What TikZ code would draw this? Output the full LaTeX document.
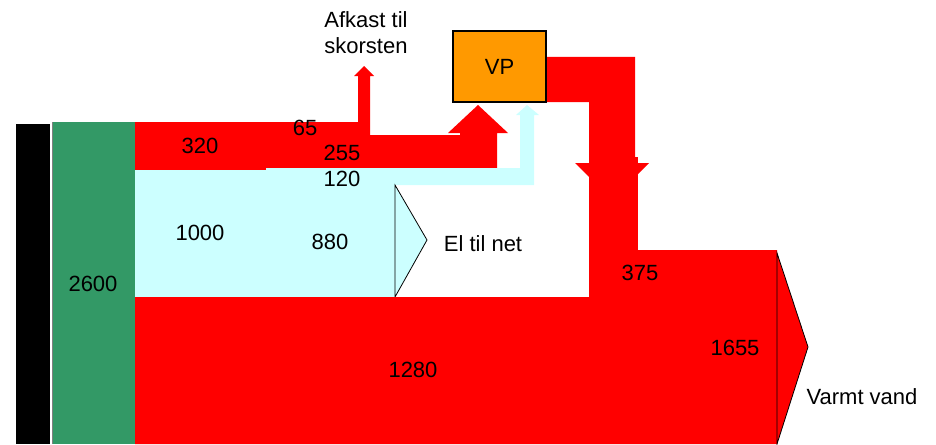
\documentclass[tikz,border=0pt]{standalone}
\usepackage{fontspec}
\setmainfont{Liberation Sans}
\definecolor{flowred}{HTML}{FF0000}
\definecolor{flowcyan}{HTML}{CCFFFF}
\definecolor{flowgreen}{HTML}{339966}
\definecolor{vporange}{HTML}{FF9900}
\tikzset{
  lbl/.style={font=\fontsize{22}{26}\selectfont, text=black, inner sep=0pt},
  redflow/.style={fill=flowred, draw=none},
  cyanflow/.style={fill=flowcyan, draw=none},
  outtri/.style={draw=black, line width=0.8pt},
}
\begin{document}
\begin{tikzpicture}[x=1pt,y=-1pt]
\useasboundingbox (0,0) rectangle (936,444);
% source bars
\fill[black] (16,124) rectangle (50,444);
\fill[flowgreen] (52,122) rectangle (135,444);
\draw[gray, line width=0.6pt] (52,122) -- (52,444);
% top red band 320
\fill[redflow] (135,122) rectangle (266,170);
% 65 to chimney + 255 to VP
\fill[redflow] (266,122) -- (358,122) -- (358,76) -- (354,76) -- (364,66) -- (374,76)
  -- (370,76) -- (370,135) -- (460,135) -- (460,133) -- (448,133) -- (478,105)
  -- (508,133) -- (497,133) -- (497,168) -- (266,168) -- cycle;
% cyan flows
\fill[cyanflow] (135,170) rectangle (395,297);
\fill[cyanflow] (266,168) -- (520,168) -- (520,115) -- (516,115) -- (527,105) -- (539,115)
  -- (534,115) -- (534,185) -- (266,185) -- cycle;
\filldraw[fill=flowcyan, outtri] (395,185) -- (427,240) -- (395,297) -- cycle;
% big red block
\fill[redflow] (135,297) -- (589,297) -- (589,250) -- (777,250) -- (777,444) -- (135,444) -- cycle;
% VP output arrow
\fill[redflow] (547,57) -- (635,57) -- (635,163) -- (649,163) -- (612,200) -- (575,163)
  -- (589,163) -- (589,102) -- (547,102) -- cycle;
\fill[redflow] (589,157) rectangle (638,252);
\filldraw[fill=flowred, outtri] (777,253) -- (808,347) -- (777,444) -- cycle;
% VP box
\node[draw=black, line width=2pt, fill=vporange, minimum width=93pt, minimum height=71pt,
  lbl] (vp) at (499.5,66.5) {VP};
% labels
\node[lbl] (l320) at (200,146) {320};
\node[lbl] (l65) at (305,128) {65};
\node[lbl] (l255) at (342,153) {255};
\node[lbl] (l120) at (342,179) {120};
\node[lbl] (l1000) at (200,233) {1000};
\node[lbl] (l880) at (330,242) {880};
\node[lbl] (l2600) at (93,284) {2600};
\node[lbl] (el) at (483,244) {El til net};
\node[lbl] (l375) at (640,273) {375};
\node[lbl] (l1655) at (735,348) {1655};
\node[lbl] (l1280) at (413,370) {1280};
\node[lbl] (vv) at (862,397) {Varmt vand};
\node[lbl, align=center] (afk) at (366,33) {Afkast til\\skorsten};
\end{tikzpicture}
\end{document}
